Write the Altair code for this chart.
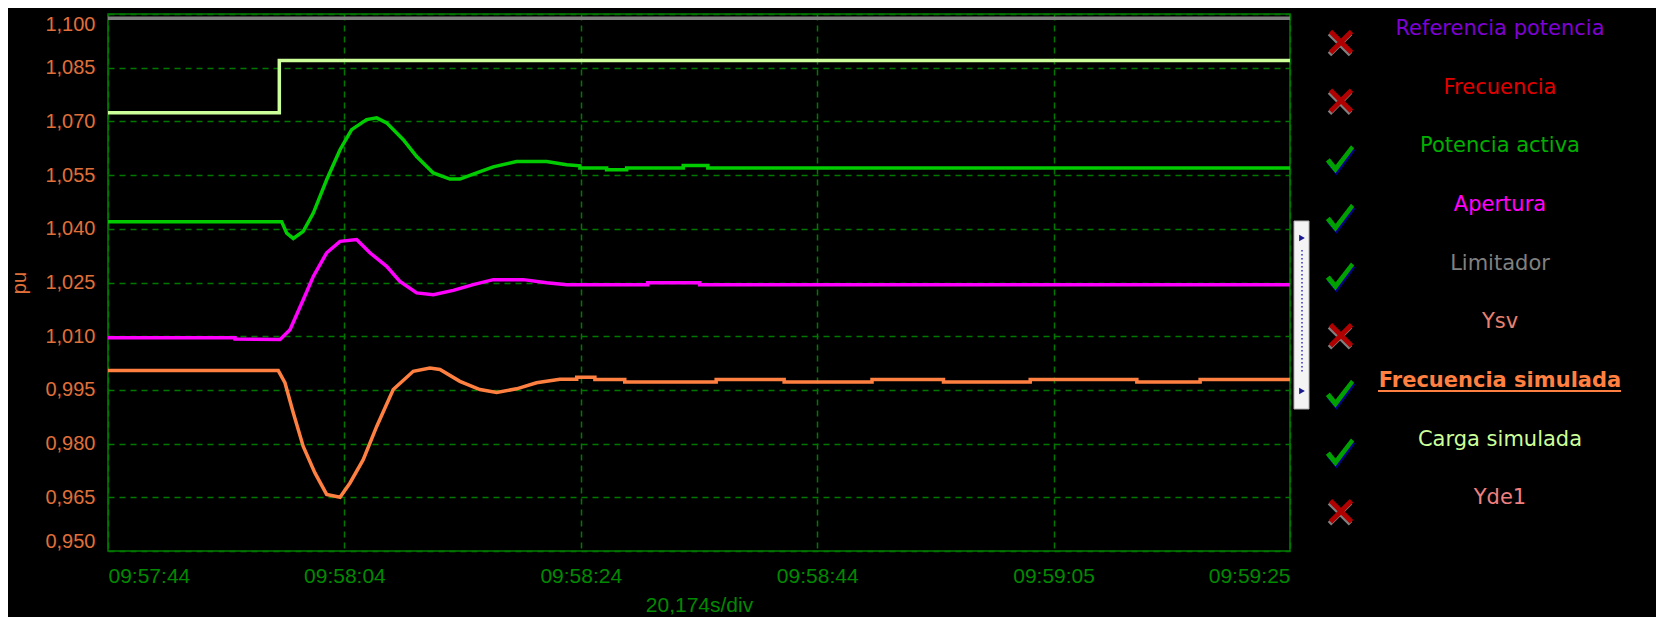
import altair as alt
import pandas as pd

# ---------------- data ----------------
T_END = 100.87  # 5 divisions of 20.174 s
x_ticks = [0, 20.174, 40.348, 60.522, 80.696, 100.87]
x_labels = ["09:57:44", "09:58:04", "09:58:24", "09:58:44", "09:59:05", "09:59:25"]
y_ticks = [0.950, 0.965, 0.980, 0.995, 1.010, 1.025, 1.040, 1.055, 1.070, 1.085, 1.100]

limit_t = [0, 100.87]
limit_v = [1.0988, 1.0988]

carga_t = [0, 14.62, 14.62, 100.87]
carga_v = [1.0724, 1.0724, 1.0870, 1.0870]

pot_t = [0, 14.82, 15.25, 15.81, 16.66, 17.52, 18.66, 19.80, 20.79, 22.07, 22.93,
         23.78, 25.20, 26.34, 27.76, 29.18, 30.03, 31.46, 32.88, 34.87, 37.43, 39.14,
         40.27, 40.27, 42.55, 42.55, 44.26, 44.26, 49.09, 49.09, 51.19, 51.19, 100.87]
pot_v = [1.0420, 1.0420, 1.0388, 1.0373, 1.0393, 1.0444, 1.0537, 1.0621, 1.0677, 1.0705, 1.0710,
         1.0696, 1.0649, 1.0602, 1.0556, 1.0539, 1.0539, 1.0556, 1.0573, 1.0588, 1.0588, 1.0579,
         1.0576, 1.0570, 1.0570, 1.0565, 1.0565, 1.0570, 1.0570, 1.0577, 1.0577, 1.0570, 1.0570]

aper_t = [0, 10.84, 10.84, 14.68, 15.53, 16.66, 17.52, 18.66, 19.80, 21.22, 22.35, 23.78,
          24.91, 26.34, 27.76, 29.46, 31.17, 32.88, 35.44, 37.43, 39.14, 46.05, 46.05,
          50.50, 50.50, 100.87]
aper_v = [1.0096, 1.0096, 1.0092, 1.0091, 1.0118, 1.0202, 1.0267, 1.0333, 1.0365, 1.0370, 1.0333, 1.0295,
          1.0253, 1.0221, 1.0216, 1.0228, 1.0244, 1.0258, 1.0258, 1.0249, 1.0244, 1.0244, 1.0249,
          1.0249, 1.0244, 1.0244]

frec_t = [0, 14.53, 15.10, 15.81, 16.66, 17.66, 18.66, 19.80, 20.65, 21.78, 22.93, 24.34,
          26.05, 27.47, 28.33, 30.03, 31.74, 33.17, 34.87, 36.57, 38.57, 40.00, 40.00,
          41.55, 41.55, 44.10, 44.10, 51.90, 51.90, 57.70, 57.70, 65.20, 65.20, 71.30, 71.30,
          78.70, 78.70, 87.80, 87.80, 93.20, 93.20, 100.87]
frec_v = [1.0004, 1.0004, 0.9970, 0.9886, 0.9792, 0.9718, 0.9658, 0.9650, 0.9690, 0.9755, 0.9848, 0.9951,
          1.0002, 1.0011, 1.0007, 0.9974, 0.9951, 0.9943, 0.9953, 0.9970, 0.9980, 0.9980, 0.9985,
          0.9985, 0.9979, 0.9979, 0.9972, 0.9972, 0.9979, 0.9979, 0.9972, 0.9972, 0.9979, 0.9979, 0.9972,
          0.9972, 0.9979, 0.9979, 0.9972, 0.9972, 0.9979, 0.9979]

series_names = ["Limitador", "Carga simulada", "Potencia activa", "Apertura", "Frecuencia simulada"]
series_colors = ["#808080", "#ccff99", "#00cc00", "#ff00ff", "#ff8040"]

legend_names = ["Referencia potencia", "Frecuencia", "Potencia activa", "Apertura", "Limitador",
                "Ysv", "Frecuencia simulada", "Carga simulada", "Yde1"]
legend_colors = ["#7f00d4", "#e00000", "#00b000", "#ff00ff", "#808080",
                 "#e8826e", "#ff8040", "#ccff99", "#f08080"]
legend_checked = [False, False, True, True, True, False, True, True, False]
legend_selected = "Frecuencia simulada"

# ---------------- tables ----------------
rows = []
for name, ts, vs in [("Limitador", limit_t, limit_v), ("Carga simulada", carga_t, carga_v),
                     ("Potencia activa", pot_t, pot_v), ("Apertura", aper_t, aper_v),
                     ("Frecuencia simulada", frec_t, frec_v)]:
    assert len(ts) == len(vs), name
    for i, (t, v) in enumerate(zip(ts, vs)):
        rows.append({"series": name, "t": t, "v": v, "i": i})
df = pd.DataFrame(rows)

leg_df = pd.DataFrame({"name": legend_names, "tcolor": legend_colors, "checked": legend_checked,
                       "sel": [n == legend_selected for n in legend_names]})
one = pd.DataFrame({"a": [0]})

FONT_AX = "Liberation Sans"
FONT_LEG = "DejaVu Sans"
W, H = 1182, 537

label_expr = "[" + ",".join("'%s'" % s for s in x_labels) + "][round(datum.value / 20.174)]"

lines = alt.Chart(df).mark_line(strokeWidth=3.5, interpolate="linear").encode(
    x=alt.X("t:Q", scale=alt.Scale(domain=[0, T_END], nice=False, zero=False),
            axis=alt.Axis(values=x_ticks, labelExpr=label_expr, title="20,174s/div",
                          labelColor="#008a00", labelFont=FONT_AX, labelFontSize=21,
                          labelPadding=14, ticks=False, domain=False, grid=True,
                          gridColor="#007800", gridDash=[6, 5], gridWidth=1.5,
                          labelFlush=True, titleColor="#008a00", titleFont=FONT_AX,
                          titleFontSize=21, titleFontWeight="normal", titlePadding=8)),
    y=alt.Y("v:Q", scale=alt.Scale(domain=[0.95, 1.1], nice=False, zero=False),
            axis=alt.Axis(values=y_ticks, labelExpr="replace(format(datum.value, '.3f'), '.', ',')",
                          title="pu", labelColor="#e0703a", labelFont=FONT_AX, labelFontSize=20,
                          labelPadding=13, ticks=False, domain=False, grid=True,
                          gridColor="#007800", gridDash=[6, 5], gridWidth=1.5, labelFlush=True,
                          titleColor="#e0703a", titleFont=FONT_AX, titleFontSize=20,
                          titleFontWeight="normal", titleX=-89, titleY=H / 2, titleAngle=-90,
                          titleBaseline="middle", titleAlign="center")),
    color=alt.Color("series:N", scale=alt.Scale(domain=series_names, range=series_colors), legend=None),
    order=alt.Order("i:Q"),
)

yleg = alt.Y("name:N", scale=alt.Scale(type="point", domain=legend_names, range=[15, 484.2], padding=0),
             axis=None)

leg_text = alt.Chart(leg_df).transform_filter("!datum.sel").mark_text(
    font=FONT_LEG, fontSize=21, align="center", baseline="middle").encode(
    x=alt.value(1392), y=yleg, text="name:N", color=alt.Color("tcolor:N", scale=None))

leg_text_b = alt.Chart(leg_df).transform_filter("datum.sel").mark_text(
    font=FONT_LEG, fontSize=21, fontWeight="bold", align="center", baseline="middle").encode(
    x=alt.value(1392), y=yleg, text="name:N", color=alt.Color("tcolor:N", scale=None))

underline = alt.Chart(leg_df).transform_filter("datum.sel").mark_rule(
    color="#ff8040", strokeWidth=2, yOffset=10).encode(
    x=alt.value(1270), x2=alt.value(1513), y=yleg)

CHECK = "M -1 0.15 L -0.72 -0.08 L -0.32 0.42 L 0.78 -1 L 1 -0.78 L -0.32 0.98 Z"
CROSS = ("M -1 -0.72 L -0.72 -1 L 0 -0.28 L 0.72 -1 L 1 -0.72 L 0.28 0 L 1 0.72 L 0.72 1 "
         "L 0 0.28 L -0.72 1 L -1 0.72 L -0.28 0 Z")

check_sh = alt.Chart(leg_df).transform_filter("datum.checked").mark_point(
    shape=CHECK, filled=True, size=800, color="#000090", opacity=1, yOffset=15, xOffset=1).encode(
    x=alt.value(1232), y=yleg)
check = alt.Chart(leg_df).transform_filter("datum.checked").mark_point(
    shape=CHECK, filled=True, size=800, color="#00a000", opacity=1, yOffset=13).encode(
    x=alt.value(1232), y=yleg)
cross_sh = alt.Chart(leg_df).transform_filter("!datum.checked").mark_point(
    shape=CROSS, filled=True, size=600, color="#808080", opacity=1, yOffset=15, xOffset=-1).encode(
    x=alt.value(1233), y=yleg)
cross = alt.Chart(leg_df).transform_filter("!datum.checked").mark_point(
    shape=CROSS, filled=True, size=600, color="#b00000", opacity=1, yOffset=13).encode(
    x=alt.value(1233), y=yleg)

# small scroll widget to the right of the plot
sb = alt.Chart(one).mark_rect(fill="#f4f4f4", stroke="#b0b0b0", strokeWidth=1).encode(
    x=alt.value(1186), x2=alt.value(1201), y=alt.value(207), y2=alt.value(395))
sb_dots = alt.Chart(one).mark_rule(color="#3030c0", strokeWidth=1.5, strokeDash=[1.5, 2.5]).encode(
    x=alt.value(1194), y=alt.value(236), y2=alt.value(358))
sb_tri1 = alt.Chart(one).mark_point(shape="triangle-right", filled=True, size=45, color="#1a1a90",
                                    opacity=1).encode(x=alt.value(1194), y=alt.value(224))
sb_tri2 = alt.Chart(one).mark_point(shape="triangle-right", filled=True, size=45, color="#1a1a90",
                                    opacity=1).encode(x=alt.value(1194), y=alt.value(377))

chart = alt.layer(
    lines, sb, sb_dots, sb_tri1, sb_tri2, leg_text, leg_text_b, underline,
    check_sh, check, cross_sh, cross
).resolve_scale(
    y="independent", color="independent"
).properties(
    width=W, height=H,
    autosize=alt.AutoSizeParams(type="none"),
    padding={"left": 100, "top": 6, "right": 366, "bottom": 66},
    background="#000000",
).configure_view(
    stroke="#008000", strokeWidth=1.5
)

chart.save("out.html", embed_options={"renderer": "svg", "actions": False})
